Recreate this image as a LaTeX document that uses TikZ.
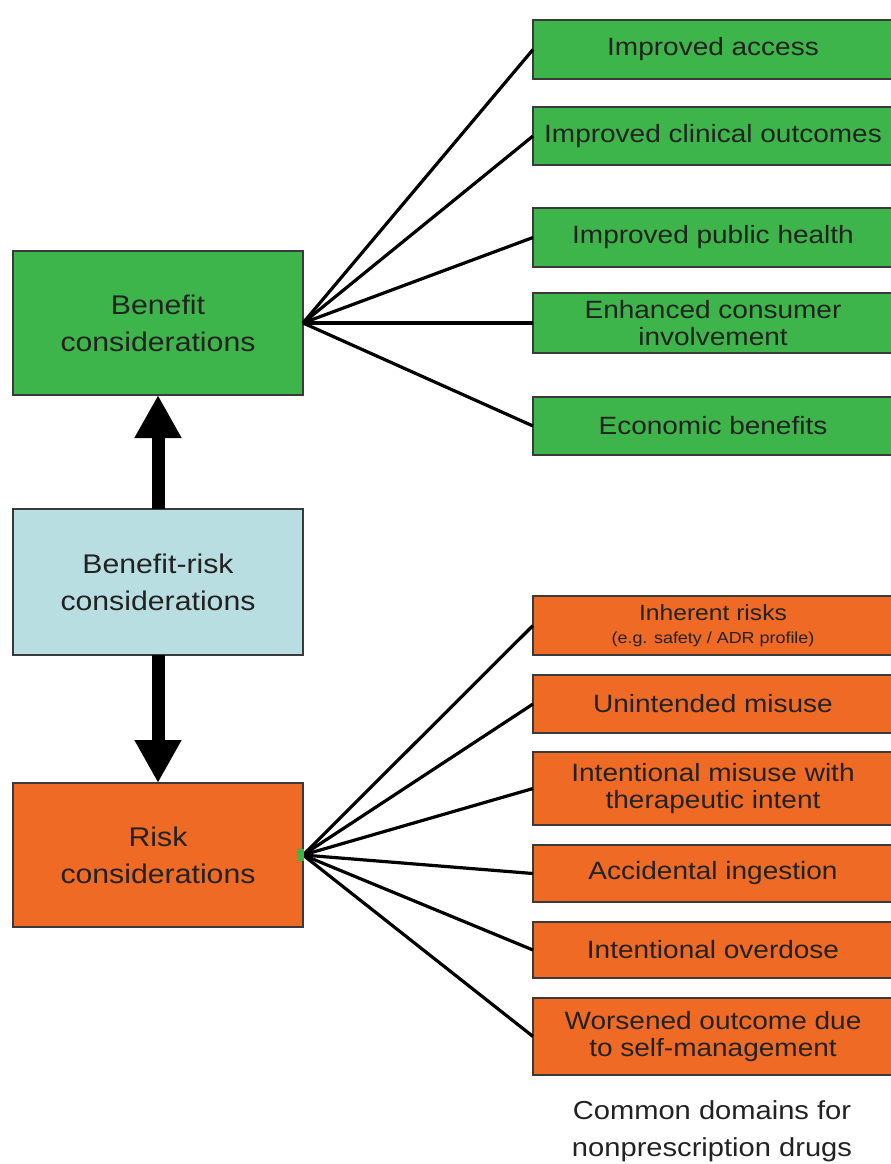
\documentclass[tikz,border=0pt]{standalone}
\usepackage{fontspec}
\setmainfont{Liberation Sans}[FakeStretch=1.12]
\usetikzlibrary{arrows.meta}
\definecolor{gfill}{HTML}{3DB54A}
\definecolor{ofill}{HTML}{EE6A25}
\definecolor{bfill}{HTML}{B9DEE2}
\definecolor{bord}{HTML}{3A3A3A}
\definecolor{txt}{HTML}{222222}
\tikzset{
  box/.style={draw=bord, line width=2pt, text=txt, align=center, inner sep=0pt, outer sep=0pt},
  bigbox/.style={box, minimum width=290pt, minimum height=144pt, font=\fontsize{27}{37}\selectfont},
  gbox/.style={box, fill=gfill, minimum width=360pt, font=\fontsize{25}{27}\selectfont},
  obox/.style={box, fill=ofill, minimum width=360pt, font=\fontsize{25}{27}\selectfont},
  conn/.style={line width=3.2pt, black},
  bigarrow/.style={line width=13pt, -{Triangle[width=44pt,length=43pt]}},
}
\begin{document}
\begin{tikzpicture}[x=1pt,y=-1pt]
\useasboundingbox (0,0) rectangle (891,1164);
\begin{scope}
\clip (0,0) rectangle (891,1164);
% left boxes
\node[bigbox, fill=gfill] (ben) at (158,323) {Benefit\\considerations};
\node[bigbox, fill=bfill, minimum height=146pt] (br) at (158,582) {Benefit-risk\\considerations};
\node[bigbox, fill=ofill] (risk) at (158,855) {Risk\\considerations};
% green boxes
\node[gbox, minimum height=59pt] (g1) at (713,49.5) {Improved access};
\node[gbox, minimum height=58pt] (g2) at (713,136) {Improved clinical outcomes};
\node[gbox, minimum height=59pt] (g3) at (713,237.5) {Improved public health};
\node[gbox, minimum height=60pt] (g4) at (713,323) {Enhanced consumer\\involvement};
\node[gbox, minimum height=58pt] (g5) at (713,426) {Economic benefits};
% orange boxes
\node[obox, minimum height=59pt] (o1) at (713,625.5) {\fontsize{22}{20}\selectfont Inherent risks\\[-4pt]{\fontsize{16}{17}\selectfont (e.g. safety / ADR profile)}};
\node[obox, minimum height=58pt] (o2) at (713,704) {Unintended misuse};
\node[obox, minimum height=73pt] (o3) at (713,788.5) {Intentional misuse with\\therapeutic intent};
\node[obox, minimum height=57pt] (o4) at (713,873.5) {Accidental ingestion};
\node[obox, minimum height=56pt] (o5) at (713,950) {Intentional overdose};
\node[obox, minimum height=77pt] (o6) at (713,1036.5) {Worsened outcome due\\to self-management};
\end{scope}
% connectors
\coordinate (bo) at (ben.east);
\coordinate (ro) at (risk.east);
\foreach \t in {g1,g2,g3,g4,g5} \draw[conn] (bo) -- (\t.west);
\foreach \t in {o1,o2,o3,o4,o5,o6} \draw[conn] (ro) -- (\t.west);
\node[fill=gfill, inner sep=0pt, minimum width=7pt, minimum height=12pt, anchor=east] (mark) at ([xshift=1pt]ro) {};
% big arrows
\draw[bigarrow] (br.north) -- (ben.south);
\draw[bigarrow] (br.south) -- (risk.north);
% caption
\node[text=txt, align=center, font=\fontsize{26}{37}\selectfont] (cap) at (712,1131) {Common domains for\\nonprescription drugs};
\end{tikzpicture}
\end{document}
